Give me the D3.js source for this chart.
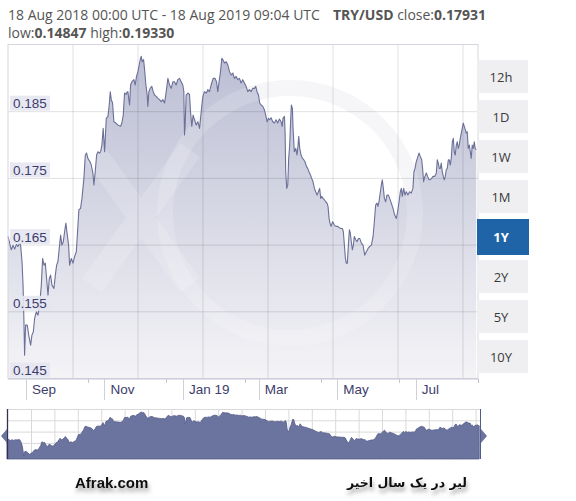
<!DOCTYPE html>
<html>
<head>
<meta charset="utf-8">
<script src="https://cdn.jsdelivr.net/npm/d3@7/dist/d3.min.js"></script>
<style>
	body { margin: 0; background: #fff; }
</style>
</head>
<body>
<div id="chart"></div>
<script>
// TRY/USD, one year
var startDate = Date.UTC(2018, 7, 18, 0, 0);
var endDate = Date.UTC(2019, 7, 18, 9, 4);

var dayOffsets = [
	0, 2.6, 3.9, 5.2, 6.5, 7.8, 9.1, 9.8, 10.9, 11.7, 12.4, 12.9, 13.7, 15.0, 16.1, 17.6, 18.6, 19.7, 20.7, 22.0,
	23.3, 24.6, 25.9, 26.9, 28.0, 29.0, 30.0, 31.1, 32.1, 33.1, 34.2, 35.7, 36.8, 37.8, 38.8, 40.1, 40.9, 41.9, 43.0, 44.0,
	45.0, 46.1, 47.1, 47.9, 49.2, 50.5, 51.8, 53.1, 54.4, 55.1, 56.4, 57.5, 59.0, 60.1, 61.1, 62.1, 63.7, 64.7, 66.0, 66.8,
	67.8, 68.9, 69.9, 71.2, 72.0, 73.0, 74.0, 75.1, 76.4, 77.7, 78.7, 79.5, 80.3, 81.3, 82.3, 83.9, 85.4, 87.5, 88.5, 89.6,
	90.6, 91.9, 92.7,
	93.2, 94.5, 95.3, 96.3, 97.9, 98.9, 99.9, 101.0, 102.0, 103.0, 103.6, 104.3, 105.4, 106.1, 107.2, 108.2, 108.7, 109.5, 110.5, 111.8,
	112.9, 113.9, 115.2, 116.5, 117.8, 119.1, 120.4, 121.7, 123.0, 124.3, 125.6, 126.9, 128.2, 129.4, 130.7, 132.0, 133.3, 134.6, 135.9, 136.7,
	137.2, 137.7, 138.5, 139.8, 141.1, 141.9, 142.9, 143.9, 145.0, 146.3, 147.6, 148.9, 149.6, 150.7, 151.5, 152.7, 154.3, 155.3, 156.6, 157.9,
	159.5, 161.0, 162.1, 163.1, 164.1, 165.2, 166.2, 167.0, 168.3, 169.6, 170.9, 172.2, 173.5, 174.8, 176.0, 177.3, 178.6, 179.9, 181.2, 182.5,
	183.8, 185.1,
	186.4, 187.7, 189.0, 190.3, 191.6, 192.6, 193.6, 194.7, 195.7, 196.8, 198.1, 199.3, 200.6, 201.4, 202.5, 203.5, 204.5, 205.8, 207.1, 208.4,
	209.7, 211.0, 212.3, 213.1, 213.8, 214.9, 215.4, 215.9, 216.7, 217.5, 218.2, 219.0, 219.8, 220.3, 221.1, 221.6, 222.6, 223.7, 224.7, 225.5,
	226.0, 226.8, 227.8, 228.9, 229.9, 230.9, 232.0, 233.0, 234.0, 235.1, 236.1, 237.1, 238.2, 239.2, 240.3, 241.3, 242.3, 243.1, 243.9, 244.9,
	245.9, 247.0, 248.0, 248.8, 249.6, 250.3, 251.1, 252.4, 253.7, 255.0, 256.3, 257.6, 258.9, 259.9, 260.7, 261.5, 262.3, 263.0, 263.8, 264.6,
	265.4, 266.1, 266.9, 267.7, 268.5, 269.2, 270.3, 271.3, 272.4,
	273.4, 274.7, 276.0, 277.3, 278.6, 279.9, 281.2, 282.5, 283.8, 284.8, 285.8, 286.9, 287.6, 288.4, 289.5, 290.2, 291.0, 291.8, 292.6, 293.6,
	294.6, 295.7, 296.7, 298.0, 299.3, 300.6, 301.9, 302.9, 304.0, 305.0, 305.8, 306.5, 307.6, 308.6, 309.6, 310.9, 312.2, 313.5, 314.8, 315.6,
	316.4, 317.4, 318.7, 319.5, 320.5, 321.6, 322.3, 323.1, 324.1, 325.2, 326.2, 327.3, 328.3, 329.3, 330.4, 331.7, 333.0, 333.7, 334.5, 335.3,
	336.1, 336.8, 337.6, 338.4, 339.2, 339.9, 340.7, 341.5, 342.3, 343.0, 343.8, 344.6, 345.4, 346.2, 346.9, 347.7, 348.5, 349.3, 350.0, 350.8,
	351.6, 352.4, 353.1, 353.9, 354.7, 355.5, 356.2, 357.0, 357.8, 358.6, 359.4, 360.1, 360.9, 361.7, 362.5, 363.2, 364.0
];

var rates = [
	0.1663, 0.1643, 0.1650, 0.1644, 0.1651, 0.1648, 0.1653, 0.1650, 0.1625, 0.1590, 0.1535, 0.1485, 0.1530, 0.1530, 0.1515, 0.1500, 0.1515, 0.1520, 0.1540, 0.1550,
	0.1545, 0.1560, 0.1590, 0.1630, 0.1620, 0.1623, 0.1600, 0.1575, 0.1600, 0.1605, 0.1590, 0.1585, 0.1605, 0.1620, 0.1625, 0.1650, 0.1665, 0.1650, 0.1655, 0.1670,
	0.1683, 0.1665, 0.1650, 0.1620, 0.1630, 0.1623, 0.1633, 0.1640, 0.1680, 0.1703, 0.1705, 0.1720, 0.1750, 0.1785, 0.1788, 0.1780, 0.1775, 0.1770, 0.1758, 0.1740,
	0.1760, 0.1785, 0.1790, 0.1788, 0.1790, 0.1800, 0.1825, 0.1790, 0.1840, 0.1843, 0.1860, 0.1880, 0.1868, 0.1863, 0.1835, 0.1833, 0.1830, 0.1828, 0.1833, 0.1845,
	0.1878, 0.1876, 0.1880,
	0.1880, 0.1860, 0.1890, 0.1895, 0.1898, 0.1890, 0.1903, 0.1910, 0.1920, 0.1930, 0.1933, 0.1925, 0.1928, 0.1915, 0.1890, 0.1875, 0.1858, 0.1880, 0.1885, 0.1888,
	0.1880, 0.1875, 0.1873, 0.1870, 0.1868, 0.1865, 0.1868, 0.1863, 0.1880, 0.1900, 0.1890, 0.1885, 0.1895, 0.1895, 0.1890, 0.1898, 0.1900, 0.1895, 0.1890, 0.1880,
	0.1815, 0.1830, 0.1875, 0.1878, 0.1876, 0.1850, 0.1828, 0.1845, 0.1838, 0.1830, 0.1835, 0.1825, 0.1838, 0.1860, 0.1873, 0.1880, 0.1878, 0.1883, 0.1880, 0.1890,
	0.1900, 0.1900, 0.1895, 0.1880, 0.1895, 0.1910, 0.1930, 0.1928, 0.1923, 0.1925, 0.1920, 0.1910, 0.1905, 0.1908, 0.1900, 0.1903, 0.1898, 0.1900, 0.1893, 0.1898,
	0.1893, 0.1888,
	0.1880, 0.1883, 0.1880, 0.1885, 0.1885, 0.1888, 0.1880, 0.1875, 0.1863, 0.1860, 0.1858, 0.1853, 0.1843, 0.1835, 0.1840, 0.1838, 0.1841, 0.1835, 0.1833, 0.1838,
	0.1833, 0.1839, 0.1835, 0.1828, 0.1840, 0.1843, 0.1820, 0.1760, 0.1735, 0.1740, 0.1780, 0.1800, 0.1840, 0.1860, 0.1855, 0.1825, 0.1790, 0.1795, 0.1785, 0.1800,
	0.1813, 0.1795, 0.1785, 0.1780, 0.1778, 0.1775, 0.1768, 0.1765, 0.1760, 0.1755, 0.1750, 0.1745, 0.1735, 0.1730, 0.1725, 0.1730, 0.1735, 0.1720, 0.1723, 0.1720,
	0.1718, 0.1715, 0.1713, 0.1708, 0.1690, 0.1683, 0.1678, 0.1685, 0.1680, 0.1678, 0.1678, 0.1676, 0.1675, 0.1675, 0.1670, 0.1650, 0.1630, 0.1623, 0.1623, 0.1650,
	0.1673, 0.1668, 0.1655, 0.1643, 0.1650, 0.1663, 0.1658, 0.1655, 0.1660,
	0.1660, 0.1653, 0.1650, 0.1635, 0.1640, 0.1645, 0.1648, 0.1650, 0.1663, 0.1685, 0.1710, 0.1713, 0.1708, 0.1715, 0.1730, 0.1740, 0.1748, 0.1735, 0.1720, 0.1715,
	0.1725, 0.1725, 0.1720, 0.1713, 0.1705, 0.1695, 0.1690, 0.1700, 0.1715, 0.1730, 0.1735, 0.1723, 0.1735, 0.1725, 0.1730, 0.1725, 0.1730, 0.1728, 0.1735, 0.1760,
	0.1765, 0.1775, 0.1783, 0.1788, 0.1783, 0.1778, 0.1765, 0.1745, 0.1753, 0.1758, 0.1753, 0.1748, 0.1748, 0.1750, 0.1753, 0.1753, 0.1758, 0.1778, 0.1773, 0.1765,
	0.1765, 0.1773, 0.1760, 0.1753, 0.1748, 0.1753, 0.1763, 0.1765, 0.1778, 0.1778, 0.1770, 0.1780, 0.1805, 0.1810, 0.1790, 0.1785, 0.1800, 0.1805, 0.1795, 0.1800,
	0.1810, 0.1818, 0.1825, 0.1833, 0.1828, 0.1823, 0.1818, 0.1820, 0.1795, 0.1800, 0.1790, 0.1780, 0.1800, 0.1795, 0.1805, 0.1795, 0.1793
];

var yTicks = [0.145, 0.155, 0.165, 0.175, 0.185];
var xTickDates = ["2018-09-01", "2018-11-01", "2019-01-01", "2019-03-01", "2019-05-01", "2019-07-01"];
var xTickLabels = ["Sep", "Nov", "Jan 19", "Mar", "May", "Jul"];
var rangeButtons = ["12h", "1D", "1W", "1M", "1Y", "2Y", "5Y", "10Y"];
var activeButton = "1Y";
var pair = "TRY/USD";
var closeRate = "0.17931";
var lowRate = "0.14847";
var highRate = "0.19330";

var data = dayOffsets.map(function(d, i) {
	return { date: new Date(startDate + d * 86400000), rate: rates[i] };
});

var width = 576, height = 501;
var plot = { left: 8, right: 478, top: 45, bottom: 378.5 };

var svg = d3.select("#chart").append("svg")
			.attr("width", width)
			.attr("height", height)
			.style("font-family", "'Liberation Sans', Arial, sans-serif");

var defs = svg.append("defs");
var grad = defs.append("linearGradient")
			.attr("id", "areaFill")
			.attr("gradientUnits", "userSpaceOnUse")
			.attr("x1", 0).attr("y1", plot.top)
			.attr("x2", 0).attr("y2", plot.bottom);
grad.append("stop").attr("offset", 0).attr("stop-color", "#babdd3");
grad.append("stop").attr("offset", 0.55).attr("stop-color", "#d9dae6");
grad.append("stop").attr("offset", 1).attr("stop-color", "#f4f4f7");

var shadow = defs.append("filter").attr("id", "txtShadow")
			.attr("x", "-20%").attr("y", "-50%").attr("width", "140%").attr("height", "220%");
shadow.append("feDropShadow")
		.attr("dx", 1).attr("dy", 4).attr("stdDeviation", 2)
		.attr("flood-color", "#444").attr("flood-opacity", 0.55);

// header text
var head = svg.append("g").style("font-family", "'Open Sans', sans-serif").style("font-size", "14px").attr("fill", "#555");
head.append("text").attr("x", 8).attr("y", 20).text("18 Aug 2018 00:00 UTC - 18 Aug 2019 09:04 UTC");
var h2 = head.append("text").attr("x", 333).attr("y", 20);
h2.append("tspan").attr("font-weight", "bold").text(pair);
h2.append("tspan").text(" close:");
h2.append("tspan").attr("font-weight", "bold").text(closeRate);
var h3 = head.append("text").attr("x", 8).attr("y", 38);
h3.append("tspan").text("low:");
h3.append("tspan").attr("font-weight", "bold").text(lowRate);
h3.append("tspan").text(" high:");
h3.append("tspan").attr("font-weight", "bold").text(highRate);

var x = d3.scaleUtc()
		.domain([new Date(startDate), new Date(endDate)])
		.range([plot.left, plot.right]);

var y = d3.scaleLinear()
		.domain([0.145, 0.195])
		.range([plot.bottom, plot.top]);

// watermark ring below the area (only shows on white)
svg.append("circle")
	.attr("cx", 290).attr("cy", 213).attr("r", 125)
	.attr("fill", "none").attr("stroke", "#f5f5f7").attr("stroke-width", 16);

var area = d3.area()
			.x(function(d) { return x(d.date); })
			.y0(plot.bottom)
			.y1(function(d) { return y(d.rate); });

var line = d3.line()
			.x(function(d) { return x(d.date); })
			.y(function(d) { return y(d.rate); });

svg.append("path")
	.datum(data)
	.attr("d", area)
	.attr("fill", "url(#areaFill)");

// watermark over the fill
var mark = svg.append("g").attr("fill", "none").attr("stroke", "#fff").attr("stroke-opacity", 0.16);
mark.append("circle")
	.attr("cx", 290).attr("cy", 213).attr("r", 125)
	.attr("stroke-width", 16);
mark.append("path")
	.attr("d", "M92,150 L190,285 M190,150 L92,285")
	.attr("stroke-width", 24);

// grid
svg.append("g").selectAll("line.h")
	.data(yTicks.slice(1))
	.enter().append("line")
	.attr("x1", plot.left).attr("x2", plot.right)
	.attr("y1", function(d) { return y(d); })
	.attr("y2", function(d) { return y(d); })
	.attr("stroke", "#000").attr("stroke-opacity", 0.12);

svg.append("g").selectAll("line.v")
	.data(d3.range(plot.left + 65, plot.right, 65))
	.enter().append("line")
	.attr("x1", function(d) { return d; }).attr("x2", function(d) { return d; })
	.attr("y1", plot.top).attr("y2", plot.bottom)
	.attr("stroke", "#000").attr("stroke-opacity", 0.12);

svg.append("path")
	.datum(data)
	.attr("d", line)
	.attr("fill", "none")
	.attr("stroke", "#6c7098")
	.attr("stroke-width", 1.1)
	.attr("stroke-linejoin", "round");

// frame
svg.append("rect")
	.attr("x", plot.left).attr("y", plot.top - 0.5)
	.attr("width", plot.right - plot.left).attr("height", plot.bottom - plot.top + 0.5)
	.attr("fill", "none").attr("stroke", "#d6d6de");

svg.append("line")
	.attr("x1", plot.left).attr("x2", plot.right)
	.attr("y1", plot.bottom + 0.5).attr("y2", plot.bottom + 0.5)
	.attr("stroke", "#c5c5d6");

// y labels
var yLab = svg.append("g").selectAll("g")
			.data(yTicks)
			.enter().append("g")
			.attr("transform", function(d) { return "translate(0," + y(d) + ")"; });
yLab.append("rect")
	.attr("x", 10).attr("y", -16).attr("width", 40).attr("height", 15)
	.attr("fill", "#e6e6f1").attr("fill-opacity", 0.9);
yLab.append("text")
	.attr("x", 13).attr("y", -3.5)
	.attr("font-size", "13.5px")
	.attr("fill", "#3d3d6b")
	.text(function(d) { return d3.format(".3f")(d); });

// x labels
var xDates = xTickDates.map(function(s) { return new Date(s + "T00:00:00Z"); });
var xAxis = svg.append("g").attr("transform", "translate(0," + (plot.bottom + 0.5) + ")");
xAxis.selectAll("line.major")
	.data(xDates)
	.enter().append("line")
	.attr("x1", function(d) { return Math.round(x(d)) + 0.5; })
	.attr("x2", function(d) { return Math.round(x(d)) + 0.5; })
	.attr("y1", 0).attr("y2", 21)
	.attr("stroke", "#d0d0dc");
xAxis.selectAll("line.minor")
	.data(xDates)
	.enter().append("line")
	.attr("x1", function(d) { return Math.round(x(d3.utcDay.offset(d, 48))) + 0.5; })
	.attr("x2", function(d) { return Math.round(x(d3.utcDay.offset(d, 48))) + 0.5; })
	.attr("y1", 0).attr("y2", 4)
	.attr("stroke", "#c5c5d6");
xAxis.selectAll("text")
	.data(xDates)
	.enter().append("text")
	.attr("x", function(d) { return x(d) + 6; })
	.attr("y", 15)
	.attr("font-size", "13.5px")
	.attr("fill", "#3d3d6b")
	.text(function(d, i) { return xTickLabels[i]; });

// range buttons
var btn = svg.append("g").selectAll("g")
			.data(rangeButtons)
			.enter().append("g")
			.attr("transform", function(d, i) { return "translate(477," + (60 + i * 40) + ")"; });
btn.append("rect")
	.attr("x", 0)
	.attr("y", function(d) { return d == activeButton ? -1 : 0; })
	.attr("width", function(d) { return d == activeButton ? 52 : 51; })
	.attr("height", function(d) { return d == activeButton ? 36 : 33; })
	.attr("fill", function(d) { return d == activeButton ? "#1f64a7" : "#efeff2"; });
btn.append("text")
	.attr("x", 24).attr("y", 21.5)
	.attr("text-anchor", "middle")
	.style("font-family", "'Open Sans', sans-serif")
	.attr("font-size", "13px")
	.attr("font-weight", function(d) { return d == activeButton ? "bold" : "normal"; })
	.attr("fill", function(d) { return d == activeButton ? "#fff" : "#3a3a3a"; })
	.text(function(d) { return d; });

// navigator
var nav = { left: 7, right: 481, top: 409, bottom: 459 };
var nx = d3.scaleUtc().domain(x.domain()).range([nav.left, nav.right]);
var ny = d3.scaleLinear().domain(d3.extent(rates)).range([nav.bottom - 3, nav.top + 3]);

var navG = svg.append("g");
navG.selectAll("line.nv")
	.data(d3.range(nav.left + 24.5, nav.right, 23.4))
	.enter().append("line")
	.attr("x1", function(d) { return d; }).attr("x2", function(d) { return d; })
	.attr("y1", nav.top).attr("y2", nav.bottom)
	.attr("stroke", "#d9d9d9");
navG.selectAll("line.nh")
	.data(d3.range(nav.top + 0.5, nav.bottom, 11.3))
	.enter().append("line")
	.attr("x1", nav.left).attr("x2", nav.right)
	.attr("y1", function(d) { return d; }).attr("y2", function(d) { return d; })
	.attr("stroke", "#d9d9d9");

navG.append("path")
	.datum(data)
	.attr("d", d3.area()
		.x(function(d) { return nx(d.date); })
		.y0(nav.bottom)
		.y1(function(d) { return ny(d.rate); }))
	.attr("fill", "#6b739f")
	.attr("stroke", "#535b88")
	.attr("stroke-width", 0.8);

navG.append("line")
	.attr("x1", nav.left + 0.5).attr("x2", nav.left + 0.5)
	.attr("y1", nav.top).attr("y2", nav.bottom)
	.attr("stroke", "#2f3350").attr("stroke-width", 1.3);
navG.append("line")
	.attr("x1", nav.right - 0.5).attr("x2", nav.right - 0.5)
	.attr("y1", nav.top).attr("y2", nav.bottom)
	.attr("stroke", "#535b88");
navG.append("path")
	.attr("d", "M" + nav.left + ",429 L" + nav.left + ",443 L1,436 Z")
	.attr("fill", "#6b739f");
navG.append("path")
	.attr("d", "M" + nav.right + ",429 L" + nav.right + ",443 L" + (nav.right + 6) + ",436 Z")
	.attr("fill", "#6b739f");

// captions
svg.append("text")
	.attr("x", 75).attr("y", 488)
	.attr("font-size", "15px").attr("font-weight", "bold")
	.attr("fill", "#111")
	.attr("filter", "url(#txtShadow)")
	.text("Afrak.com");

svg.append("text")
	.attr("x", 407).attr("y", 487)
	.attr("text-anchor", "middle")
	.style("font-family", "'DejaVu Sans', sans-serif")
	.attr("font-size", "12.5px").attr("font-weight", "bold")
	.attr("fill", "#111")
	.attr("filter", "url(#txtShadow)")
	.text("لیر در یک سال اخیر");
</script>
</body>
</html>
